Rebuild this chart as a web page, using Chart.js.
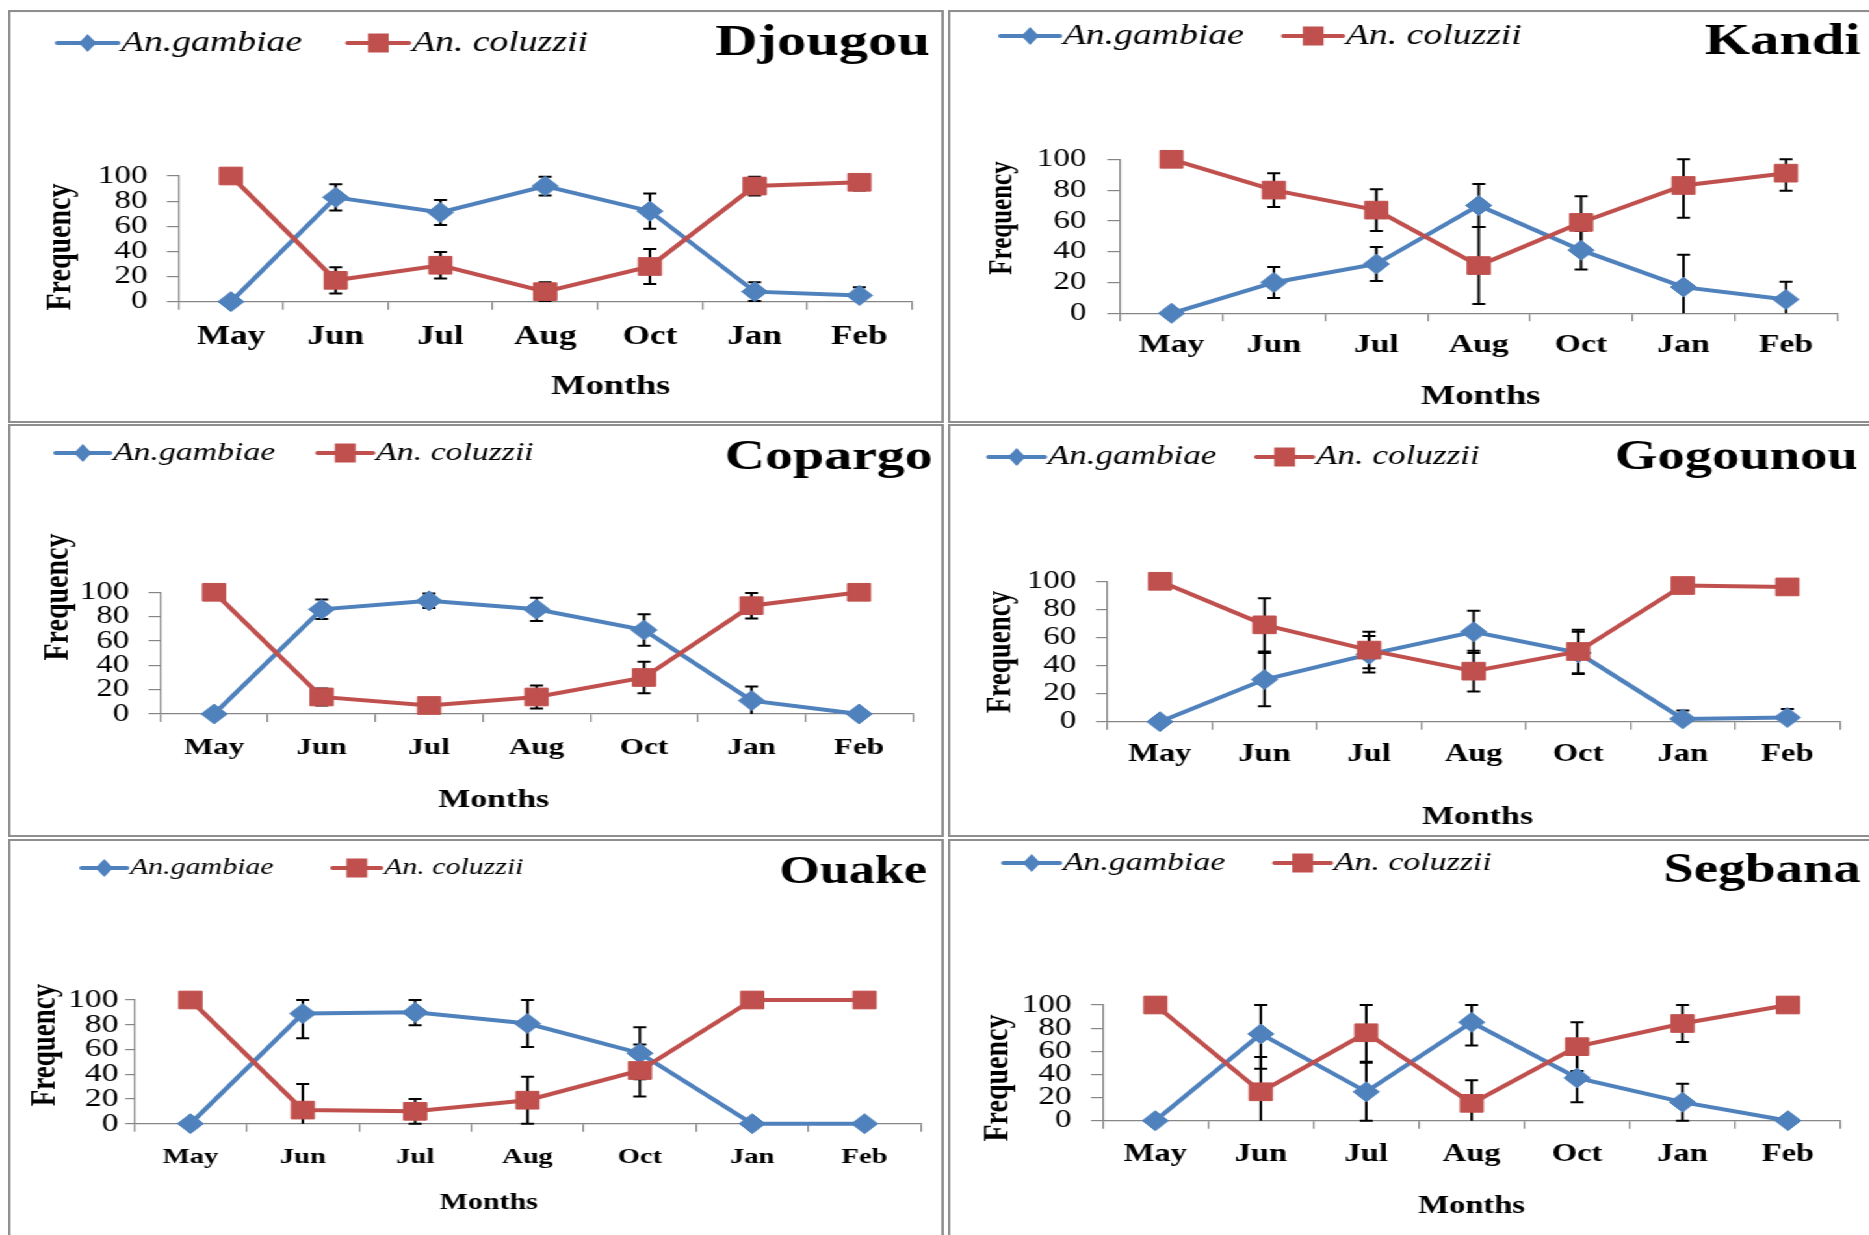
<!DOCTYPE html>
<html>
<head>
<meta charset="utf-8">
<script src="https://cdn.jsdelivr.net/npm/chart.js@4.4.1/dist/chart.umd.min.js"></script>
<style>
html,body{margin:0;padding:0;background:#fff;overflow:hidden;width:1869px;height:1235px;}
#page{position:absolute;left:0;top:0;width:1438px;height:1235px;transform:scaleX(1.3);transform-origin:0 0;}
#page canvas{position:absolute;}
.frame{position:absolute;border:2px solid #8e8e8e;box-sizing:border-box;pointer-events:none;}
</style>
</head>
<body>
<div id="page"></div>
<script>
// ---------- data ----------
const months = ['May', 'Jun', 'Jul', 'Aug', 'Oct', 'Jan', 'Feb'];
const seriesNames = ['An.gambiae', 'An. coluzzii'];
const sites = ['Djougou', 'Kandi', 'Copargo', 'Gogounou', 'Ouake', 'Segbana'];
const yTicks = [0, 20, 40, 60, 80, 100];

const djougouGambiae     = [0, 83, 71, 92, 72, 8, 5];
const djougouGambiaeErr  = [0, 10.5, 10, 7.5, 14, 7.5, 6.5];
const djougouColuzzii    = [100, 17, 29, 8, 28, 92, 95];
const djougouColuzziiErr = [0, 10.5, 10.5, 7.5, 14, 7.5, 6.5];

const kandiGambiae     = [0, 20, 32, 70, 41, 17, 9];
const kandiGambiaeErr  = [0, 10, 11, 14, 12.5, 21, 11.5];
const kandiColuzzii    = [100, 80, 67, 31, 59, 83, 91];
const kandiColuzziiErr = [0, 11, 13.5, 25, 17, 21, 11.5];

const copargoGambiae     = [0, 86, 93, 86, 69, 11, 0];
const copargoGambiaeErr  = [0, 8, 6, 9.5, 13, 11.5, 0];
const copargoColuzzii    = [100, 14, 7, 14, 30, 89, 100];
const copargoColuzziiErr = [0, 7, 0, 9.5, 13, 10.5, 0];

const gogounouGambiae     = [0, 30, 48, 64, 49, 2, 3];
const gogounouGambiaeErr  = [0, 19, 13, 15, 15, 6, 6];
const gogounouColuzzii    = [100, 69, 51, 36, 50, 97, 96];
const gogounouColuzziiErr = [0, 19, 13, 14.5, 15.5, 0, 0];

const ouakeGambiae     = [0, 89, 90, 81, 57, 0, 0];
const ouakeGambiaeErr  = [0, 20, 10.5, 19, 21, 0, 0];
const ouakeColuzzii    = [100, 11, 10, 19, 43, 100, 100];
const ouakeColuzziiErr = [0, 21, 10, 19, 21, 0, 0];

const segbanaGambiae     = [0, 75, 25, 85, 37, 16, 0];
const segbanaGambiaeErr  = [0, 30, 25, 20, 21, 16, 0];
const segbanaColuzzii    = [100, 25, 76, 15, 64, 84, 100];
const segbanaColuzziiErr = [0, 30, 25, 20, 21, 16, 0];

const siteData = [
  [djougouGambiae, djougouGambiaeErr, djougouColuzzii, djougouColuzziiErr],
  [kandiGambiae, kandiGambiaeErr, kandiColuzzii, kandiColuzziiErr],
  [copargoGambiae, copargoGambiaeErr, copargoColuzzii, copargoColuzziiErr],
  [gogounouGambiae, gogounouGambiaeErr, gogounouColuzzii, gogounouColuzziiErr],
  [ouakeGambiae, ouakeGambiaeErr, ouakeColuzzii, ouakeColuzziiErr],
  [segbanaGambiae, segbanaGambiaeErr, segbanaColuzzii, segbanaColuzziiErr]
];

// ---------- layout (page pixels) ----------
const S = 1.3; // horizontal stretch of the original figure
const BLUE = '#4F81BD', RED = '#C0504D', AXIS = '#868686';
const FONT = '"Liberation Serif", "Times New Roman", serif';

const layout = [
  {box:[8,10,936,413],  area:[178.8,176,912,301.7],    leg:{y:43,  b:[57.6,60.4], r:[348,61], size:29}, title:{right:930,y:43.5,size:45}, freq:{x:65,y:247,size:28},   months:{x:611,y:387,size:28},   tick:{size:27,pad:11},   ytick:{size:25.5,pad:15,tl:9}},
  {box:[948,10,930,413],area:[1120.6,159.3,1837.5,313.3],leg:{y:36,  b:[1001,59], r:[1284,59],  size:29}, title:{right:1861,y:42,size:45}, freq:{x:1007,y:218,size:25}, months:{x:1481,y:397,size:28}, tick:{size:26,pad:8},    ytick:{size:25.5,pad:16,tl:10}},
  {box:[8,424,936,413], area:[160.6,592.3,913,714],     leg:{y:453, b:[56,54],   r:[318,55],   size:26}, title:{right:933,y:457.5,size:43}, freq:{x:62,y:597,size:28},  months:{x:494,y:800,size:26},   tick:{size:24,pad:11.6}, ytick:{size:25.5,pad:15,tl:9}},
  {box:[948,424,930,413],area:[1108,581.3,1840,721.7],  leg:{y:457, b:[989,56],  r:[1257,56],  size:27}, title:{right:1858,y:458,size:42}, freq:{x:1005,y:652,size:27}, months:{x:1478,y:817,size:26}, tick:{size:25,pad:10.3}, ytick:{size:25.5,pad:15,tl:9}},
  {box:[8,839,936,400], area:[134.5,1000,921,1123.7],   leg:{y:868, b:[82,45],   r:[333,48],   size:23}, title:{right:927,y:872.5,size:40}, freq:{x:49,y:1045,size:27}, months:{x:489,y:1203,size:23},  tick:{size:22,pad:12},   ytick:{size:26,pad:5,tl:7}},
  {box:[948,839,930,400],area:[1103,1005,1841,1120.7],  leg:{y:863, b:[1004,56], r:[1275,56],  size:26}, title:{right:1861,y:871,size:42}, freq:{x:1002,y:1078,size:28}, months:{x:1472,y:1207,size:25}, tick:{size:25,pad:11.3}, ytick:{size:25.5,pad:15,tl:9}}
];

Chart.defaults.font.family = FONT;
Chart.defaults.color = '#000';

const page = document.getElementById('page');

function makePlugin(idx, X, Y) {
  const L = layout[idx];
  const errs = [siteData[idx][1], siteData[idx][3]];
  return {
    id: 'annot' + idx,
    beforeDatasetsDraw(chart) {
      const ctx = chart.ctx, ys = chart.scales.y;
      ctx.save();
      ctx.strokeStyle = '#000';
      ctx.lineWidth = 2;
      [0, 1].forEach(di => {
        const meta = chart.getDatasetMeta(di);
        const vals = chart.data.datasets[di].data;
        meta.data.forEach((pt, j) => {
          const e = errs[di][j];
          if (!e) return;
          const hi = Math.min(ys.max, vals[j] + e);
          const loRaw = vals[j] - e;
          const lo = Math.max(ys.min, loRaw);
          const yh = ys.getPixelForValue(hi), yl = ys.getPixelForValue(lo);
          const cw = 5;
          ctx.beginPath();
          ctx.moveTo(pt.x, yh); ctx.lineTo(pt.x, yl);
          ctx.moveTo(pt.x - cw, yh); ctx.lineTo(pt.x + cw, yh);
          if (loRaw >= ys.min) { ctx.moveTo(pt.x - cw, yl); ctx.lineTo(pt.x + cw, yl); }
          ctx.stroke();
        });
      });
      ctx.restore();
    },
    afterDraw(chart) {
      const ctx = chart.ctx;
      ctx.save();
      // legend
      const items = [[L.leg.b, BLUE, 'diamond', seriesNames[0]], [L.leg.r, RED, 'square', seriesNames[1]]];
      items.forEach(([seg, color, shape, text]) => {
        const x0 = X(seg[0]), x1 = X(seg[0] + seg[1]), y = Y(L.leg.y);
        ctx.strokeStyle = color; ctx.lineWidth = 4; ctx.lineCap = 'round';
        ctx.beginPath(); ctx.moveTo(x0, y); ctx.lineTo(x1, y); ctx.stroke();
        const mx = (x0 + x1) / 2;
        ctx.fillStyle = color;
        ctx.beginPath();
        if (shape === 'diamond') {
          ctx.moveTo(mx - 6.8, y); ctx.lineTo(mx, y - 9); ctx.lineTo(mx + 6.8, y); ctx.lineTo(mx, y + 9); ctx.closePath();
        } else {
          ctx.rect(mx - 8, y - 9.5, 16, 19);
        }
        ctx.fill();
        ctx.fillStyle = '#000';
        ctx.font = 'italic ' + L.leg.size + 'px ' + FONT;
        ctx.textAlign = 'left'; ctx.textBaseline = 'middle';
        ctx.fillText(text, x1 + 2.5, y);
      });
      // site title
      ctx.fillStyle = '#000';
      ctx.font = 'bold ' + L.title.size + 'px ' + FONT;
      ctx.textAlign = 'right'; ctx.textBaseline = 'middle';
      ctx.fillText(sites[idx], X(L.title.right), Y(L.title.y));
      // x axis title
      ctx.font = 'bold ' + L.months.size + 'px ' + FONT;
      ctx.textAlign = 'center';
      ctx.fillText('Months', X(L.months.x), Y(L.months.y));
      // y axis title
      ctx.save();
      ctx.translate(X(L.freq.x) - 3, Y(L.freq.y));
      ctx.rotate(-Math.PI / 2);
      ctx.font = 'bold ' + L.freq.size + 'px ' + FONT;
      ctx.textAlign = 'center'; ctx.textBaseline = 'middle';
      ctx.fillText('Frequency', 0, 0);
      ctx.restore();
      ctx.restore();
    }
  };
}

function fitArea(chart, t) {
  for (let k = 0; k < 4; k++) {
    const a = chart.chartArea;
    const p = chart.config.options.layout.padding;
    chart.config.options.layout.padding = {
      left: p.left + (t.left - a.left),
      right: p.right + (a.right - t.right),
      top: p.top + (t.top - a.top),
      bottom: p.bottom + (a.bottom - t.bottom)
    };
    chart.update('none');
  }
}

layout.forEach((L, idx) => {
  const [bx, by, bw, bh] = L.box;
  const cw = Math.round(bw / S), ch = bh;
  const cv = document.createElement('canvas');
  cv.width = cw; cv.height = ch;
  cv.style.left = (bx / S) + 'px'; cv.style.top = by + 'px';
  cv.style.width = cw + 'px'; cv.style.height = ch + 'px';
  page.appendChild(cv);
  const fr = document.createElement('div');
  fr.className = 'frame';
  fr.style.left = (bx / S) + 'px'; fr.style.top = by + 'px';
  fr.style.width = cw + 'px'; fr.style.height = ch + 'px';
  page.appendChild(fr);

  const X = v => (v - bx) / S, Y = v => v - by;
  const target = {left: X(L.area[0]), top: Y(L.area[1]), right: X(L.area[2]), bottom: Y(L.area[3])};
  const d = siteData[idx];

  const chart = new Chart(cv, {
    type: 'line',
    data: {
      labels: months,
      datasets: [
        {label: seriesNames[0], data: d[0], borderColor: BLUE, backgroundColor: BLUE,
         pointStyle: 'rectRot', pointRadius: 10, pointBorderWidth: 1, pointBackgroundColor: BLUE, pointBorderColor: BLUE,
         borderWidth: 4, tension: 0, clip: false, order: 1},
        {label: seriesNames[1], data: d[2], borderColor: RED, backgroundColor: RED,
         pointStyle: 'rect', pointRadius: 12.5, pointBorderWidth: 1, pointBackgroundColor: RED, pointBorderColor: RED,
         borderWidth: 4, tension: 0, clip: false, order: 0}
      ]
    },
    options: {
      responsive: false,
      animation: false,
      devicePixelRatio: 1,
      events: [],
      layout: {padding: {left: target.left - 60, right: cw - target.right, top: target.top, bottom: ch - target.bottom - 50}},
      plugins: {legend: {display: false}, tooltip: {enabled: false}, title: {display: false}},
      scales: {
        x: {
          type: 'category',
          offset: true,
          grid: {offset: true, drawOnChartArea: false, drawTicks: true, tickLength: 8, color: AXIS, lineWidth: 1.2},
          border: {display: true, color: AXIS, width: 1.2},
          ticks: {font: {family: FONT, weight: 'bold', size: L.tick.size}, color: '#000', padding: L.tick.pad, maxRotation: 0, autoSkip: false}
        },
        y: {
          type: 'linear',
          min: yTicks[0], max: yTicks[yTicks.length - 1],
          afterBuildTicks: s => { s.ticks = yTicks.map(v => ({value: v})); },
          grid: {drawOnChartArea: false, drawTicks: true, tickLength: L.ytick.tl, color: AXIS, lineWidth: 1.2},
          border: {display: true, color: AXIS, width: 1.2},
          ticks: {font: {family: FONT, size: L.ytick.size, lineHeight: 1}, color: '#000', padding: L.ytick.pad, autoSkip: false}
        }
      }
    },
    plugins: [makePlugin(idx, X, Y)]
  });
  fitArea(chart, target);
});
</script>
</body>
</html>
